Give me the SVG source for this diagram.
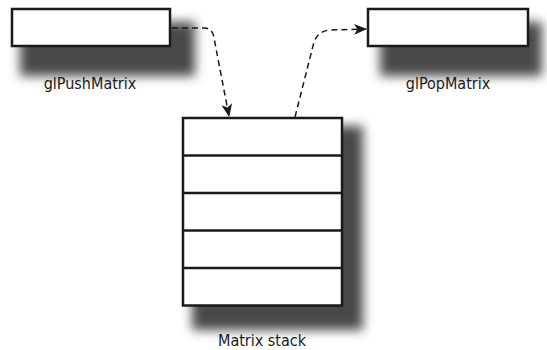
<svg xmlns="http://www.w3.org/2000/svg" width="547" height="350" viewBox="0 0 547 350">
<style>
.box{fill:#fff;stroke:#1a1a1a;stroke-width:2.5}
.shadow{fill:#4a4a4a;filter:url(#blur)}
.label{font-family:"Liberation Sans Narrow","DejaVu Sans Condensed","Liberation Sans",sans-serif;font-size:16px;font-weight:500;fill:#1a1a1a;text-anchor:middle}
.conn{fill:none;stroke:#1a1a1a;stroke-width:1.5;stroke-dasharray:6,4}
</style>
<defs>
<filter id="blur" x="-30%" y="-30%" width="160%" height="160%"><feGaussianBlur stdDeviation="5.5"/></filter>
<marker id="arrow" viewBox="0 0 12 10" refX="11" refY="5" markerWidth="13" markerHeight="11" markerUnits="userSpaceOnUse" orient="auto"><path d="M0,0 L12,5 L0,10 L3,5 Z" fill="#1a1a1a"/></marker>
</defs>
<g id="push">
<rect class="shadow" x="20" y="22" width="175" height="54"/>
<rect class="box" x="12" y="9" width="158" height="37"/>
<text class="label" x="90" y="89">glPushMatrix</text>
</g>
<g id="pop">
<rect class="shadow" x="380" y="22" width="162" height="54"/>
<rect class="box" x="368" y="9" width="160" height="37"/>
<text class="label" x="448" y="89">glPopMatrix</text>
</g>
<g id="stack">
<rect class="shadow" x="192" y="126" width="171" height="204"/>
<rect class="box" x="183" y="118" width="159" height="187.5"/>
<line class="box" x1="183" y1="155.5" x2="342" y2="155.5"/>
<line class="box" x1="183" y1="193" x2="342" y2="193"/>
<line class="box" x1="183" y1="230.5" x2="342" y2="230.5"/>
<line class="box" x1="183" y1="268" x2="342" y2="268"/>
<text class="label" x="262" y="346">Matrix stack</text>
</g>
<g id="connectors">
<path class="conn" marker-end="url(#arrow)" d="M172,28 L205,28 Q213,29 214,38 L229,116"/>
<path class="conn" marker-end="url(#arrow)" d="M295,117 L314,42 Q318,31 330,30 L366,29"/>
</g>
</svg>
